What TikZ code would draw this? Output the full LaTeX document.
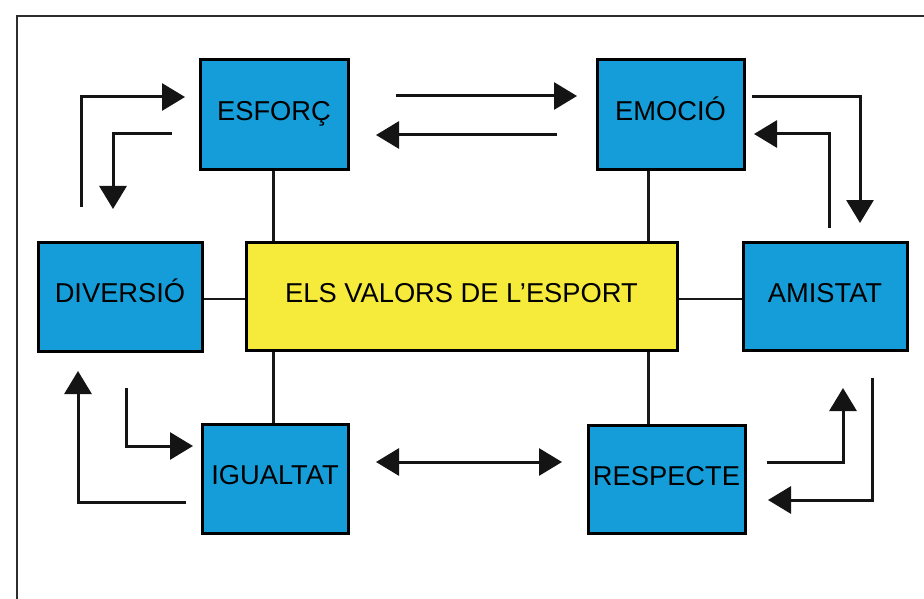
\documentclass[tikz,border=0pt]{standalone}
\usepackage{fontspec}
\setmainfont{Liberation Sans}
\usetikzlibrary{arrows.meta}
\definecolor{boxblue}{RGB}{20,157,216}
\definecolor{boxyellow}{RGB}{246,235,58}
\definecolor{framegray}{RGB}{45,45,45}
\tikzset{
  valbox/.style={draw=black, line width=3pt, fill=boxblue, inner sep=0pt,
    font=\fontsize{27.3pt}{32pt}\selectfont, text height=20pt, text depth=8pt},
  centerbox/.style={valbox, fill=boxyellow},
  link/.style={line width=2.6pt, draw=black!90},
  flow/.style={line width=3pt, draw=black!92, -{Triangle[length=23pt,width=27pt]}},
  flowboth/.style={line width=3pt, draw=black!92, {Triangle[length=23pt,width=27pt]}-{Triangle[length=23pt,width=27pt]}}
}
\begin{document}
\begin{tikzpicture}[x=1pt,y=-1pt]
\useasboundingbox (0,0) rectangle (924,599);
\fill[white] (0,0) rectangle (924,599);
% frame
\coordinate (fa) at (17,605);
\coordinate (fb) at (17,16);
\coordinate (fc) at (930,16);
\draw[line width=2.6pt, draw=framegray] (fa) -- (fb) -- (fc);

% nodes
\node[valbox, minimum width=148pt, minimum height=110pt] (esforc) at (274,115) {ESFORÇ};
\node[valbox, minimum width=147pt, minimum height=110pt] (emocio) at (670.5,115) {EMOCIÓ};
\node[valbox, minimum width=164pt, minimum height=109pt] (diversio) at (120,296.5) {DIVERSIÓ};
\node[centerbox, minimum width=431pt, minimum height=108pt] (valors) at (461.5,296) {ELS VALORS DE L’ESPORT};
\node[valbox, minimum width=164pt, minimum height=108pt] (amistat) at (825,296) {AMISTAT};
\node[valbox, minimum width=146pt, minimum height=109pt] (igualtat) at (275,478.5) {IGUALTAT};
\node[valbox, minimum width=157pt, minimum height=108pt] (respecte) at (666.5,479) {RESPECTE};

% links to centre
\coordinate (rtop) at ([xshift=-30pt]valors.north east);
\coordinate (rbot) at ([xshift=-30pt]valors.south east);
\coordinate (ltop) at ([xshift=29pt]valors.north west);
\coordinate (lbot) at ([xshift=29pt]valors.south west);
\coordinate (lmid) at ([yshift=-3pt]valors.west);
\coordinate (rmid) at ([yshift=-3pt]valors.east);
\draw[link] (esforc.south -| ltop) -- (ltop);
\draw[link] (emocio.south -| rtop) -- (rtop);
\draw[link] (igualtat.north -| lbot) -- (lbot);
\draw[link] (respecte.north -| rbot) -- (rbot);
\draw[link] (diversio.east |- lmid) -- (lmid);
\draw[link] (amistat.west |- rmid) -- (rmid);

% arrows
\coordinate (a1s) at (81,207);   \coordinate (a1e) at (185,97);
\coordinate (a2s) at (172,134);  \coordinate (a2e) at (113,209);
\coordinate (a3s) at (396,96);   \coordinate (a3e) at (577,96);
\coordinate (a4s) at (557,135);  \coordinate (a4e) at (376,135);
\coordinate (a5s) at (752,97);   \coordinate (a5e) at (860,223);
\coordinate (a6s) at (829,228);  \coordinate (a6e) at (754,134);
\coordinate (a7s) at (186,502);  \coordinate (a7e) at (78,371);
\coordinate (a8s) at (126,388);  \coordinate (a8e) at (193,446);
\coordinate (a9s) at (376,462);  \coordinate (a9e) at (562,462);
\coordinate (a10s) at (767,462); \coordinate (a10e) at (843,388);
\coordinate (a11s) at (872,378); \coordinate (a11e) at (768,500);

\draw[flow] (a1s) |- (a1e);
\draw[flow] (a2s) -| (a2e);
\draw[flow] (a3s) -- (a3e);
\draw[flow] (a4s) -- (a4e);
\draw[flow] (a5s) -| (a5e);
\draw[flow] (a6s) |- (a6e);
\draw[flow] (a7s) -| (a7e);
\draw[flow] (a8s) |- (a8e);
\draw[flowboth] (a9s) -- (a9e);
\draw[flow] (a10s) -| (a10e);
\draw[flow] (a11s) |- (a11e);
\end{tikzpicture}
\end{document}
